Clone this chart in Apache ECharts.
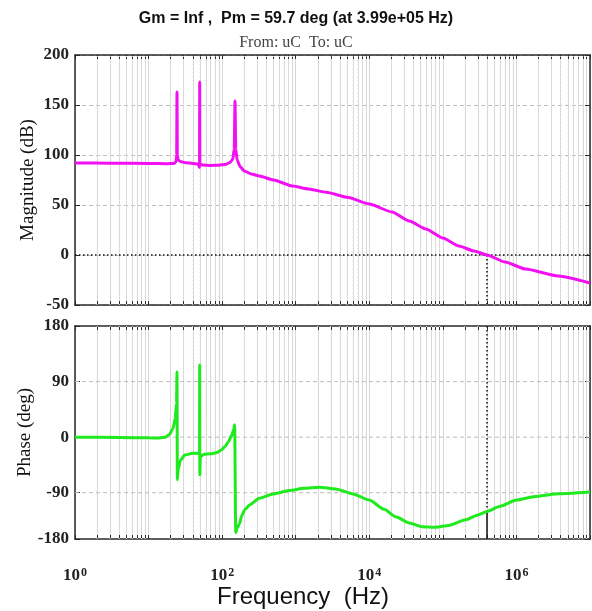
<!DOCTYPE html>
<html>
<head>
<meta charset="utf-8">
<script src="https://cdn.jsdelivr.net/npm/echarts@6/dist/echarts.min.js"></script>
<style>
  html, body { margin: 0; padding: 0; background: #ffffff; }
  #chart { width: 592px; height: 611px; }
</style>
</head>
<body>
<div id="chart"></div>
<script>
// Bode diagram of the open loop uC -> uC, with the gain crossover marked.
const titleText = 'Gm = Inf ,  Pm = 59.7 deg (at 3.99e+05 Hz)';
const subtitleText = 'From: uC  To: uC';
const magAxisName = 'Magnitude (dB)';
const phaseAxisName = 'Phase (deg)';
const freqAxisName = 'Frequency  (Hz)';

// Magnitude response (Hz, dB)
const magFreq = [1, 3, 10, 18, 22, 23.6, 24.1, 24.35, 24.6, 25.3, 27, 32, 40, 47, 49.3, 49.55, 49.8, 55, 70, 90,
  110, 128, 140, 146, 149.5, 153, 160, 175, 200, 250, 320, 500, 900, 1500, 2600, 5000, 10000, 20400, 35000,
  58900, 100000, 165000, 265000, 399000, 700000, 1330000, 3700000, 10000000];
const magDb = [92, 91.8, 91.6, 91.3, 91.6, 93, 100, 163, 100, 95, 93.5, 92.3, 91.5, 90.8, 87.5, 173, 90.6, 90, 89.6, 89.8,
  90.5, 92.5, 96, 106, 154, 106, 95, 88.5, 84, 81, 79, 75, 69, 66, 62.7, 57.7, 51, 43, 34,
  26, 17, 9, 4, 0, -7, -14, -21, -28];

// Phase response (Hz, deg)
const phaseFreq = [1, 4, 10, 14, 17, 19, 21.5, 23, 24, 24.35, 24.6, 25.3, 27, 31, 40, 48, 49.3, 49.5, 49.7, 50.5,
  56, 70, 85, 97, 110, 122, 135, 143, 148, 153, 160, 172, 185, 205, 235, 320, 490, 817, 1300, 2090, 3500,
  6000, 10000, 16000, 22900, 35000, 52000, 79900, 120000, 203000, 300000, 399000, 600000, 1000000, 1800000,
  3400000, 10000000];
const phaseDeg = [0, -0.5, -1.2, -1.5, 0, 4, 14, 30, 55, 106, -69, -52, -38, -29, -26, -26.5, -25, 117, -61, -32,
  -28, -27, -25, -21, -15, -7, 3, 12, 20, -155, -148, -140, -127, -117, -110, -99, -92, -86.5, -83, -81, -84,
  -92, -102, -117, -129, -139, -145, -146, -143, -134, -126, -120.3, -112, -102, -96,
  -92, -89];

// Gain crossover and margin
const crossoverHz = 3.99e5;
const phaseMarginDeg = 59.7;
const crossoverPhase = -180 + phaseMarginDeg;

// Axis ranges and tick labels
const freqMin = 1, freqMax = 1e7;
const magMin = -50, magMax = 200, magStep = 50;
const phaseTop = 180, phaseFloor = -165;
const phaseTickValues = [phaseFloor, -90, 0, 90, 180];
const phaseTickLabels = ['-180', '-90', '0', '90', '180'];
const phaseGridValues = [-90, 0, 90];
const labelledDecades = [0, 2, 4, 6];

const serif = '"Liberation Serif", "DejaVu Serif", serif';
const sans = '"Liberation Sans", Arial, sans-serif';
const axisColor = '#2a2a2a';

// Minor frequency positions 2..9 x 10^k inside the axis range
const minorFreqs = [];
for (let k = 0; k < 7; k++) {
  for (let m = 2; m <= 9; m++) minorFreqs.push(m * Math.pow(10, k));
}
const allFreqTicks = [];
for (let k = 0; k <= 7; k++) {
  allFreqTicks.push(Math.pow(10, k));
  if (k < 7) for (let m = 2; m <= 9; m++) allFreqTicks.push(m * Math.pow(10, k));
}

const freqLabel = (v) => {
  const e = Math.round(Math.log10(v));
  return labelledDecades.includes(e) ? '{b|10}{s|' + e + '}' : '';
};

function freqAxis(gridIndex, position, showLabels) {
  return {
    type: 'log', logBase: 10, min: freqMin, max: freqMax, gridIndex, position,
    axisLine: { show: true, onZero: false, lineStyle: { color: axisColor, width: 1.5 } },
    axisTick: { show: true, inside: true, length: 4, customValues: allFreqTicks, lineStyle: { color: axisColor, width: 1 } },
    minorTick: { show: false },
    axisLabel: {
      show: showLabels, margin: 28, formatter: freqLabel,
      rich: {
        b: { fontFamily: serif, fontWeight: 'bold', fontSize: 17, lineHeight: 17, color: '#222', verticalAlign: 'bottom' },
        s: { fontFamily: serif, fontWeight: 'bold', fontSize: 12, lineHeight: 12, color: '#222', verticalAlign: 'top', padding: [0, 0, 10, 1] }
      }
    },
    splitLine: { show: position === 'bottom', lineStyle: { color: '#d8d8d8', width: 1 } }
  };
}

// Grid lines as broken polylines ('-' splits the segments)
function verticalGrid(xIdx, yIdx, lo, hi) {
  const pts = [];
  minorFreqs.forEach(f => { pts.push([f, lo], [f, hi], '-'); });
  return {
    type: 'line', xAxisIndex: xIdx, yAxisIndex: yIdx, data: pts, silent: true, z: 1,
    showSymbol: false, connectNulls: false,
    lineStyle: { color: '#e2e2e2', type: [1, 3], width: 1 }
  };
}
function horizontalGrid(xIdx, yIdx, values) {
  const pts = [];
  values.forEach(v => { pts.push([freqMin, v], [freqMax, v], '-'); });
  return {
    type: 'line', xAxisIndex: xIdx, yAxisIndex: yIdx, data: pts, silent: true, z: 1,
    showSymbol: false, connectNulls: false,
    lineStyle: { color: '#bdbdbd', type: [4, 3], width: 1 }
  };
}

const dotted = { color: '#111', type: [1.5, 2.5], width: 1.5 };

function yAxisName(text, gap) {
  return {
    name: text, nameLocation: 'middle', nameGap: gap, nameMoveOverlap: false,
    nameTextStyle: { fontFamily: serif, fontSize: 19, color: '#111' }
  };
}

const chart = echarts.init(document.getElementById('chart'), null, { renderer: 'canvas' });

chart.setOption({
  animation: false,
  backgroundColor: '#ffffff',
  title: [
    { text: titleText, left: 'center', top: 6,
      textStyle: { fontFamily: sans, fontWeight: 'bold', fontSize: 16, color: '#111' } },
    { text: subtitleText, left: 'center', top: 30,
      textStyle: { fontFamily: serif, fontWeight: 'normal', fontSize: 16, color: '#444' } }
  ],
  graphic: [
    { type: 'text', x: 303, y: 597,
      style: { text: freqAxisName, fontFamily: sans, fontSize: 24, fill: '#111', align: 'center', verticalAlign: 'middle' } }
  ],
  grid: [
    { left: 75, right: 2, top: 55, height: 250, outerBoundsMode: 'none' },
    { left: 75, right: 2, top: 326, height: 213, outerBoundsMode: 'none' }
  ],
  xAxis: [
    freqAxis(0, 'bottom', false),
    freqAxis(0, 'top', false),
    freqAxis(1, 'bottom', true),
    freqAxis(1, 'top', false)
  ],
  yAxis: [
    Object.assign({
      type: 'value', gridIndex: 0, position: 'left', min: magMin, max: magMax, interval: magStep,
      axisLine: { show: true, lineStyle: { color: axisColor, width: 1.5 } },
      axisTick: { show: true, inside: true, length: 5, lineStyle: { color: axisColor } },
      axisLabel: { margin: 6, fontFamily: serif, fontWeight: 'bold', fontSize: 17, color: '#222' },
      splitLine: { show: true, lineStyle: { color: '#bdbdbd', type: [4, 3], width: 1 } }
    }, yAxisName(magAxisName, 37)),
    {
      type: 'value', gridIndex: 0, position: 'right', min: magMin, max: magMax, interval: magStep,
      axisLine: { show: true, lineStyle: { color: axisColor, width: 1.5 } },
      axisTick: { show: true, inside: true, length: 5, lineStyle: { color: axisColor } },
      axisLabel: { show: false }, splitLine: { show: false }
    },
    Object.assign({
      type: 'value', gridIndex: 1, position: 'left', min: phaseFloor, max: phaseTop,
      axisLine: { show: true, lineStyle: { color: axisColor, width: 1.5 } },
      axisTick: { show: true, inside: true, length: 5, customValues: phaseTickValues, lineStyle: { color: axisColor } },
      axisLabel: {
        margin: 6, fontFamily: serif, fontWeight: 'bold', fontSize: 17, color: '#222',
        customValues: phaseTickValues,
        formatter: (v) => phaseTickLabels[phaseTickValues.indexOf(v)] ?? ''
      },
      splitLine: { show: false }
    }, yAxisName(phaseAxisName, 40)),
    {
      type: 'value', gridIndex: 1, position: 'right', min: phaseFloor, max: phaseTop,
      axisLine: { show: true, lineStyle: { color: axisColor, width: 1.5 } },
      axisTick: { show: true, inside: true, length: 5, customValues: phaseTickValues, lineStyle: { color: axisColor } },
      axisLabel: { show: false }, splitLine: { show: false }
    }
  ],
  series: [
    verticalGrid(0, 0, magMin, magMax),
    verticalGrid(2, 2, phaseFloor, phaseTop),
    horizontalGrid(2, 2, phaseGridValues),
    {
      // crossover markers, magnitude pane
      type: 'line', xAxisIndex: 0, yAxisIndex: 0, data: [], silent: true, z: 2,
      markLine: {
        silent: true, symbol: 'none', label: { show: false }, animation: false,
        lineStyle: dotted,
        data: [
          [{ coord: [freqMin, 0] }, { coord: [freqMax, 0] }],
          [{ coord: [crossoverHz, 0] }, { coord: [crossoverHz, magMin] }]
        ]
      }
    },
    {
      // crossover markers, phase pane
      type: 'line', xAxisIndex: 2, yAxisIndex: 2, data: [], silent: true, z: 2,
      markLine: {
        silent: true, symbol: 'none', label: { show: false }, animation: false,
        data: [
          [{ coord: [crossoverHz, phaseTop], lineStyle: dotted }, { coord: [crossoverHz, crossoverPhase] }],
          [{ coord: [crossoverHz, crossoverPhase], lineStyle: { color: '#111', type: 'solid', width: 1.5 } },
           { coord: [crossoverHz, phaseFloor] }]
        ]
      }
    },
    {
      name: 'Magnitude', type: 'line', xAxisIndex: 0, yAxisIndex: 0, zlevel: 1, z: 10,
      data: magFreq.map((f, i) => [f, magDb[i]]),
      showSymbol: false, smooth: 0.2, smoothMonotone: 'x',
      lineStyle: { color: '#f210f2', width: 3, type: 'solid' }
    },
    {
      name: 'Phase', type: 'line', xAxisIndex: 2, yAxisIndex: 2, zlevel: 1, z: 10,
      data: phaseFreq.map((f, i) => [f, phaseDeg[i]]),
      showSymbol: false, smooth: 0.2, smoothMonotone: 'x',
      lineStyle: { color: '#1eea1e', width: 3, type: 'solid' }
    }
  ]
});
</script>
</body>
</html>
